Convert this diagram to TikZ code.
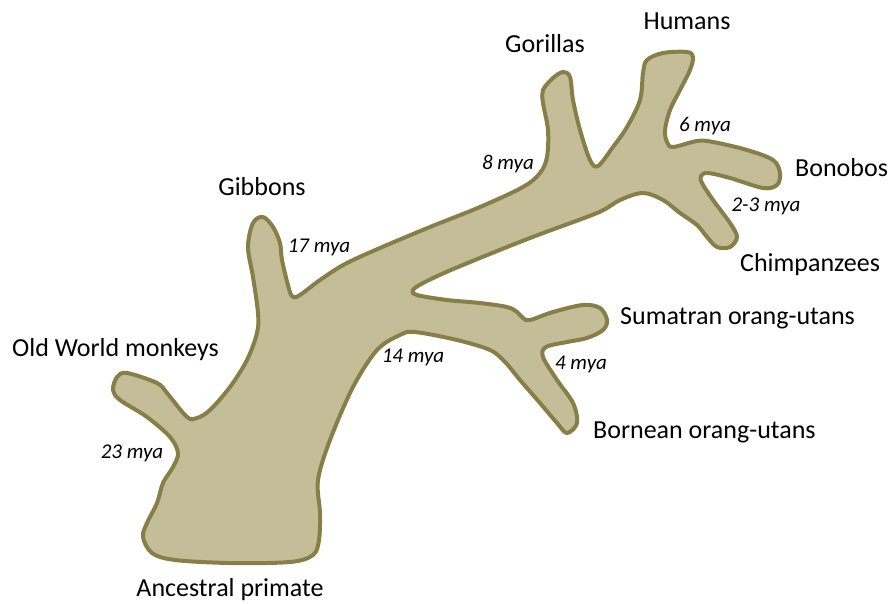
\documentclass[tikz,border=0pt]{standalone}
\usepackage{fontspec}
\setmainfont{Carlito}
\begin{document}
\begin{tikzpicture}[x=1pt,y=-1pt,
  lbl/.style={font=\fontsize{26}{30}\selectfont, inner sep=0pt},
  age/.style={font=\fontsize{21}{25}\selectfont\itshape, inner sep=0pt},
  treebody/.style={fill=treefill, draw=treeline, line width=4pt, line join=round}]
\definecolor{treefill}{HTML}{C4BE98}
\definecolor{treeline}{HTML}{877F47}
\useasboundingbox (0,0) rectangle (890,604);
\draw[treebody] plot[smooth cycle, tension=0.55] coordinates {
(143,537) (152,553) (175,560) (230,563) (290,562) (313,555) (319,540) (320,513) (318,480) (330,440) (353,387) (377,350) (400,335) (415,332) (457,340) (490,350) (505,362) (520,380) (540,403) (557,423) (567,433) (577,423) (573,403) (557,380) (543,357) (546,347) (567,342) (587,338) (603,330) (607,320) (600,308) (583,305) (553,312) (530,320) (523,318) (517,312) (507,307) (480,303) (447,300) (417,295) (413,290) (425,282) (458,267) (530,238) (597,213) (620,200) (643,193) (663,200) (680,213) (697,225) (707,237) (717,247) (730,247) (737,237) (730,223) (713,200) (702,183) (701,176) (708,173) (730,178) (763,188) (777,185) (780,173) (773,160) (747,150) (713,142) (697,141) (673,147) (667,142) (665,130) (670,110) (680,90) (690,70) (693,57) (687,52) (663,53) (647,60) (643,73) (640,100) (627,127) (613,147) (598,166) (590,160) (580,130) (573,100) (570,77) (563,72) (553,78) (543,90) (543,103) (548,130) (547,157) (540,173) (523,187) (480,207) (430,227) (380,248) (345,264) (320,280) (300,295) (293,297) (289,289) (282,260) (280,243) (273,227) (263,217) (253,223) (248,247) (253,277) (258,313) (257,333) (247,360) (230,387) (210,410) (197,418) (187,417) (167,393) (157,383) (127,373) (117,377) (113,390) (120,400) (147,417) (170,437) (178,453) (173,467) (163,483) (157,503) (147,523)
};
\node[lbl, anchor=mid] (humans) at (687,27) {Humans};
\node[lbl, anchor=mid] (gorillas) at (545,50) {Gorillas};
\node[lbl, anchor=mid] (gibbons) at (262,193) {Gibbons};
\node[lbl, anchor=mid west] (owm) at (12,354) {Old World monkeys};
\node[lbl, anchor=mid] (anc) at (230,594) {Ancestral primate};
\node[lbl, anchor=mid west] (bonobos) at (795,174) {Bonobos};
\node[lbl, anchor=mid west] (chimps) at (740,269) {Chimpanzees};
\node[lbl, anchor=mid west] (suma) at (620,322) {Sumatran orang-utans};
\node[lbl, anchor=mid west] (born) at (593,436) {Bornean orang-utans};
\node[age, anchor=mid] (a6) at (705,129) {6 mya};
\node[age, anchor=mid] (a8) at (508,167) {8 mya};
\node[age, anchor=mid] (a17) at (319,250) {17 mya};
\node[age, anchor=mid] (a23) at (132,456) {23 mya};
\node[age, anchor=mid] (a14) at (413,360) {14 mya};
\node[age, anchor=mid] (a4) at (581,367) {4 mya};
\node[age, anchor=mid] (a23b) at (766,209) {2-3 mya};
\end{tikzpicture}
\end{document}
